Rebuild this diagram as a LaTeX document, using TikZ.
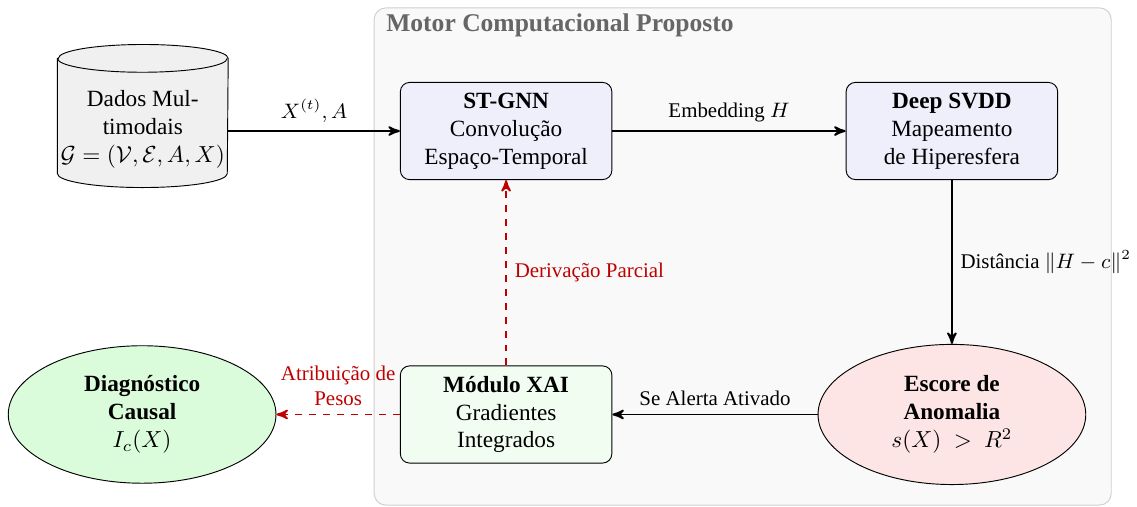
\documentclass[tikz,border=0pt]{standalone}
\usepackage{fontspec}
\setmainfont{Liberation Serif}
\usetikzlibrary{arrows}
\usetikzlibrary{shapes.geometric}

\definecolor{fundomotor}{HTML}{F9F9F9}
\definecolor{bordamotor}{HTML}{CFCFCF}
\definecolor{cinzadados}{HTML}{F0F0F0}
\definecolor{azulbloco}{HTML}{EFEFFC}
\definecolor{verdebloco}{HTML}{F1FDF1}
\definecolor{verdediag}{HTML}{DAFCDA}
\definecolor{rosaescore}{HTML}{FDE5E5}
\definecolor{vermelhoxai}{HTML}{C00000}

\begin{document}
\begin{tikzpicture}[
		bloco/.style={draw, rounded corners=4pt, align=center, minimum width=3.2cm, minimum height=1.47cm, inner sep=2pt},
		elipse/.style={draw, ellipse, align=center, minimum width=4.05cm, minimum height=2.12cm, inner sep=1pt},
		seta/.style={thick, -stealth'},
		setaxai/.style={thick, dashed, -stealth', vermelhoxai},
		rotulo/.style={font=\small},
	]
		\useasboundingbox (0,0) rectangle (17.2,-7.656);
		\draw[bordamotor, fill=fundomotor, rounded corners=5pt] (5.66,-0.12) rectangle (16.81,-7.64);
		\node[anchor=west, text=black!60, font=\fontsize{11}{13}\selectfont\bfseries] (titulo) at (5.72,-0.39) {Motor Computacional Proposto};

		%cilindro dos dados: caixa invisivel + contorno desenhado a mao
		\node[minimum width=2.57cm, minimum height=2.15cm, inner sep=0pt] (dados) at (2.16,-1.755) {};
		\draw[fill=cinzadados] ([yshift=-0.21cm]dados.north west) -- ([yshift=0.21cm]dados.south west)
			arc[start angle=180, end angle=360, x radius=1.285cm, y radius=0.21cm]
			-- ([yshift=-0.21cm]dados.north east)
			arc[start angle=0, end angle=180, x radius=1.285cm, y radius=0.21cm] -- cycle;
		\draw ([yshift=-0.21cm]dados.north west) arc[start angle=180, end angle=360, x radius=1.285cm, y radius=0.21cm];
		\node[align=center, inner sep=0pt] (dadostexto) at (2.16,-1.96) {Dados Mul-\\timodais\\$\mathcal{G}=(\mathcal{V},\mathcal{E},A,X)$};

		%blocos, ordem: ST-GNN -> SVDD -> escore -> XAI -> diagnostico
		\node[bloco, fill=azulbloco] (stgnn) at (7.656,-1.982) {\textbf{ST-GNN}\\Convolução\\Espaço-Temporal};
		\node[bloco, fill=azulbloco] (svdd) at (14.40,-1.982) {\textbf{Deep SVDD}\\Mapeamento\\de Hiperesfera};
		\node[elipse, fill=rosaescore] (escore) at (14.40,-6.27) {\textbf{Escore de}\\\textbf{Anomalia}\\$s(X)\ >\ R^2$};
		\node[bloco, fill=verdebloco] (xai) at (7.656,-6.27) {\textbf{Módulo XAI}\\Gradientes\\Integrados};
		\node[elipse, fill=verdediag, minimum height=2.08cm] (diag) at (2.15,-6.27) {\textbf{Diagnóstico}\\\textbf{Causal}\\$I_c(X)$};

		\draw[seta] (dados.east |- stgnn.west) -- node[above, rotulo] {$X^{(t)}, A$} (stgnn.west);
		\draw[seta] (stgnn) -- node[above, rotulo] {Embedding $H$} (svdd);
		\draw[seta] (svdd) -- node[right, rotulo] {Distância $\|H-c\|^2$} (escore);
		\draw[seta] (escore) -- node[above, rotulo] {Se Alerta Ativado} (xai);
		\draw[setaxai] (xai) -- node[right, rotulo] {Derivação Parcial} (stgnn);
		\draw[setaxai] (xai) -- node[above, rotulo, align=center] {Atribuição de\\Pesos} (diag);
	\end{tikzpicture}
\end{document}
